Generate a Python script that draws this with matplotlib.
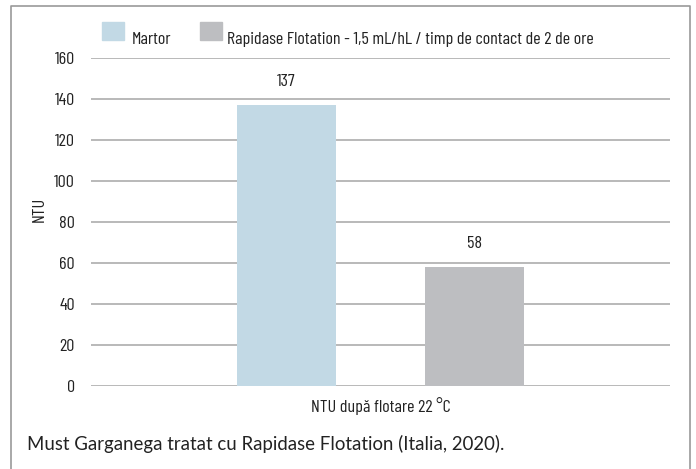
import matplotlib
matplotlib.use('Agg')
import matplotlib.pyplot as plt
from matplotlib.patches import Rectangle

categories = ['Martor', 'Rapidase Flotation - 1,5 mL/hL / timp de contact de 2 de ore']
values = [137, 58]
colors = ['#c2d9e5', '#bdbec1']
yticks = [0, 20, 40, 60, 80, 100, 120, 140, 160]
xlabel = 'NTU după flotare 22 °C'
ylabel = 'NTU'
footnote = 'Must Garganega tratat cu Rapidase Flotation (Italia, 2020).'

W, H = 696, 469
narrow = ['Barlow Condensed', 'Roboto Condensed', 'DejaVu Sans']
ink = '#222222'
fs = 13

fig = plt.figure(figsize=(W / 100, H / 100), dpi=100)
ax = fig.add_axes([91 / W, 1 - 386 / H, 579 / W, 328 / H])

x = [0, 1]
ax.bar(x, values, width=0.527, color=colors, zorder=3)
for xi, v in zip(x, values):
    ax.annotate(str(v), (xi, v), xytext=(0, 17), textcoords='offset points', ha='center', va='center',
                fontsize=fs, family=narrow, color=ink)

ax.set_xlim(-1.04, 2.04)
ax.set_ylim(0, 160)
ax.set_yticks(yticks)
ax.set_yticklabels([str(t) for t in yticks], family=narrow, fontsize=fs, color=ink)
ax.yaxis.grid(True, color='#a6a6a6', linewidth=1.1, zorder=0)
ax.tick_params(axis='y', length=0, pad=11.5)
ax.set_xticks([])
for s in ax.spines.values():
    s.set_visible(False)
ax.set_ylabel(ylabel, family=narrow, fontsize=fs, color=ink)
ax.yaxis.set_label_coords(-0.076, 0.54)
ax.set_xlabel(xlabel, family=narrow, fontsize=fs, color=ink)
ax.xaxis.set_label_coords(0.5, -0.033)

# legend drawn by hand in figure coords
patch_x = [102, 200]
text_x = [132, 227]
for px, tx, c, lab in zip(patch_x, text_x, colors, categories):
    fig.patches.append(Rectangle((px / W, 1 - 40 / H), 22 / W, 18 / H, transform=fig.transFigure,
                                 color=c, figure=fig))
    fig.text(tx / W, 1 - 44 / H, lab, ha='left', va='baseline', family=narrow, fontsize=fs, color=ink)

fig.text(27 / W, 1 - 450 / H, footnote, ha='left', va='baseline', family=['Lato', 'DejaVu Sans'],
         fontsize=13.4, color=ink)

# outer frame, open at the bottom
frame_x = [11 / W, 11 / W, 690 / W, 690 / W]
frame_y = [0, 1 - 6 / H, 1 - 6 / H, 0]
fig.add_artist(plt.Line2D(frame_x, frame_y, transform=fig.transFigure, color='#999999', linewidth=1.2))

fig.savefig('out.png', dpi=100)
